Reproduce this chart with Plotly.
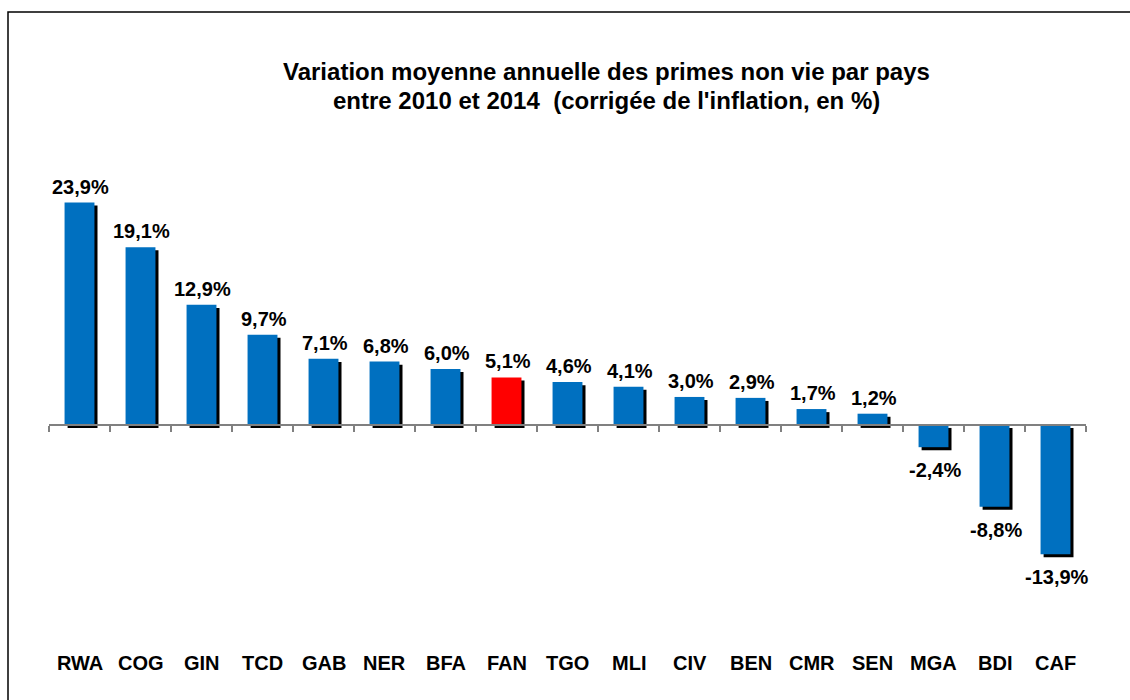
import plotly.graph_objects as go

categories = ["RWA", "COG", "GIN", "TCD", "GAB", "NER", "BFA", "FAN", "TGO",
              "MLI", "CIV", "BEN", "CMR", "SEN", "MGA", "BDI", "CAF"]
values = [23.9, 19.1, 12.9, 9.7, 7.1, 6.8, 6.0, 5.1, 4.6,
          4.1, 3.0, 2.9, 1.7, 1.2, -2.4, -8.8, -13.9]
highlight = "FAN"

title_lines = ["Variation moyenne annuelle des primes non vie par pays",
               "entre 2010 et 2014  (corrigée de l'inflation, en %)"]

BLUE = "#0070C0"
RED = "#FF0000"
FONT = "Liberation Sans, Arial, sans-serif"

W, H = 1130, 700
y_min, y_max = -17, 26
bar_w = 0.49
sh_dx = 0.05
sh_dy = 0.33

colors = [RED if c == highlight else BLUE for c in categories]
labels = [f"{v:.1f}%".replace(".", ",") for v in values]

fig = go.Figure()
# shadow
fig.add_trace(go.Bar(
    x=categories, y=values, base=[-sh_dy] * len(values),
    width=bar_w, offset=-bar_w / 2 + sh_dx,
    marker=dict(color="black", line=dict(width=0)),
    hoverinfo="skip", showlegend=False))
# main bars
fig.add_trace(go.Bar(
    x=categories, y=values, width=bar_w, offset=-bar_w / 2,
    marker=dict(color=colors, line=dict(width=0)),
    showlegend=False))

m_l, m_r = 49, W - 1086
m_t = 183
m_b = H - 583
ph = H - m_t - m_b
pw = W - m_l - m_r


def py(pix):
    return (H - m_b - pix) / ph


def px(pix):
    return (pix - m_l) / pw


annotations = []
for c, v, t in zip(categories, values, labels):
    annotations.append(dict(
        x=c, y=v, xref="x", yref="y", text=f"<b>{t}</b>", showarrow=False,
        xshift=1, yshift=16 if v >= 0 else -23, yanchor="middle",
        font=dict(family=FONT, size=20, color="black")))
for c in categories:
    annotations.append(dict(
        x=c, y=py(663), xref="x", yref="paper", text=f"<b>{c}</b>",
        showarrow=False, yanchor="middle",
        font=dict(family=FONT, size=20, color="black")))
for line, ypix in zip(title_lines, [72, 101]):
    annotations.append(dict(
        x=px(606), y=py(ypix), xref="paper", yref="paper", text=f"<b>{line}</b>",
        showarrow=False, xanchor="center", yanchor="middle",
        font=dict(family=FONT, size=24, color="black")))

fig.update_layout(
    width=W, height=H, autosize=False,
    margin=dict(l=m_l, r=m_r, t=m_t, b=m_b),
    paper_bgcolor="white", plot_bgcolor="white",
    barmode="overlay",
    xaxis=dict(type="category", categoryorder="array", categoryarray=categories,
               range=[-0.5, len(categories) - 0.5], anchor="free",
               position=(0 - y_min) / (y_max - y_min),
               showline=True, linecolor="#808080", linewidth=1.5,
               ticks="outside", tickson="boundaries", ticklen=6,
               tickcolor="#808080", tickwidth=1.5,
               showticklabels=False,
               showgrid=False, zeroline=False, fixedrange=True),
    yaxis=dict(range=[y_min, y_max], visible=False, showgrid=False,
               zeroline=False, fixedrange=True),
    annotations=annotations,
    shapes=[dict(type="rect", xref="paper", yref="paper",
                 x0=px(8), x1=px(1140), y0=py(710), y1=py(12),
                 line=dict(color="black", width=1.5), layer="below")],
)
for tr in fig.data:
    tr.cliponaxis = False

fig.write_html("out.html", config={"displayModeBar": False},
               post_script="document.body.style.margin='0px';document.body.style.overflow='hidden';")
